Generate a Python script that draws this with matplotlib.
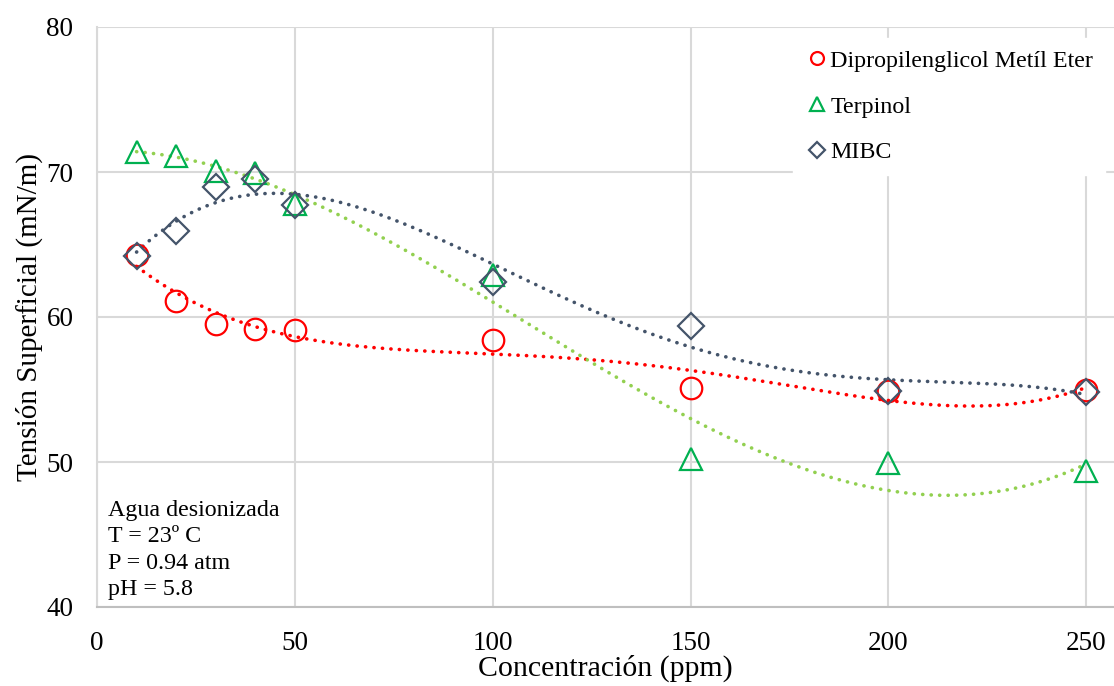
import matplotlib.pyplot as plt
import numpy as np

# Datos
conc = np.array([10, 20, 30, 40, 50, 100, 150, 200, 250])
dpm = np.array([64.3, 61.1, 59.5, 59.2, 59.1, 58.4, 55.1, 54.9, 55.0])       # Dipropilenglicol Metil Eter
terpinol = np.array([71.4, 71.1, 70.1, 69.9, 67.8, 62.9, 50.2, 49.9, 49.4])
mibc = np.array([64.2, 65.9, 69.0, 69.5, 67.7, 62.4, 59.4, 54.9, 54.8])

xticks = [0, 50, 100, 150, 200, 250]
yticks = [40, 50, 60, 70, 80]

plt.rcParams['font.family'] = ['Liberation Serif', 'DejaVu Serif']

fig = plt.figure(figsize=(11.14, 6.86), dpi=100)
ax = fig.add_axes([97 / 1114, 1 - 607 / 686, 1017 / 1114, 580 / 686])

# Lineas de tendencia polinomicas (como en Excel)
xf = np.linspace(10, 250, 300)
p_dpm = np.polyfit(conc, dpm, 4)
p_ter = np.polyfit(conc, terpinol, 3)
p_mib = np.polyfit(conc, mibc, 4)
punteado = dict(ls=(0, (0.05, 2.3)), lw=2.6, dash_capstyle='round', zorder=2)
ax.plot(xf, np.polyval(p_dpm, xf), color='#FF0000', **punteado)
ax.plot(xf, np.polyval(p_ter, xf), color='#92D050', **punteado)
ax.plot(xf, np.polyval(p_mib, xf), color='#44546A', **punteado)

ax.plot(conc, dpm, 'o', ms=15.5, mfc='none', mec='#FF0000', mew=1.6, label='Dipropilenglicol Metíl Eter', zorder=3)
ax.plot(conc, terpinol, '^', ms=16, mfc='none', mec='#00B050', mew=1.6, label='Terpinol', zorder=3)
ax.plot(conc, mibc, 'D', ms=13.5, mfc='none', mec='#44546A', mew=1.6, label='MIBC', zorder=3)

ax.set_xlim(0, 257)
ax.set_ylim(40, 80)
ax.set_xticks(xticks)
ax.set_yticks(yticks)
ax.tick_params(length=0, labelsize=19.5)
ax.tick_params(axis='y', pad=17)
ax.tick_params(axis='x', pad=17.5)
ax.grid(True, color='#D9D9D9', lw=1.5)
ax.set_axisbelow(True)
for s in ['top', 'right']:
    ax.spines[s].set_visible(False)
ax.spines['left'].set_color('#D9D9D9')
ax.spines['left'].set_linewidth(1.5)
ax.spines['bottom'].set_color('#BFBFBF')
ax.spines['bottom'].set_linewidth(1.5)

ax.set_xlabel('Concentración (ppm)', fontsize=21.5, labelpad=-1)
ax.set_ylabel('Tensión Superficial (mN/m)', fontsize=21, labelpad=2.5)

leg = ax.legend(loc='upper right', bbox_to_anchor=(1.003, 1.002), fontsize=17.3, frameon=True,
                fancybox=False, edgecolor='white', framealpha=1, handletextpad=0.05,
                handlelength=1.0, markerscale=0.6, labelspacing=1.0, borderpad=0.5)

ax.text(0.011, 0.012, 'Agua desionizada\nT = 23º C\nP = 0.94 atm\npH = 5.8', transform=ax.transAxes,
        fontsize=17.3, va='bottom', ha='left', linespacing=1.33)

plt.savefig('out.png')
